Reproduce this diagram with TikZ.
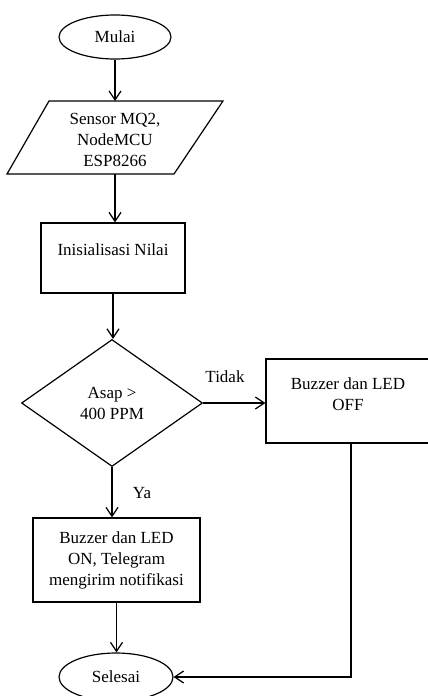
\documentclass[tikz,border=0pt]{standalone}
\usepackage{fontspec}
\setmainfont{Liberation Serif}
\usetikzlibrary{shapes.geometric,arrows.meta}
\begin{document}
\begin{tikzpicture}[x=1pt,y=-1pt,
  every node/.style={font=\fontsize{17}{21}\selectfont},
  shp/.style={draw,line width=1.2pt,inner sep=0pt},
  conn/.style={line width=1.2pt,-{Straight Barb[length=9pt,width=12pt,line width=1.2pt]}},
  plain/.style={line width=1.2pt}]
\useasboundingbox (0,0) rectangle (428,696);
\node[shp,ellipse,minimum width=112pt,minimum height=44pt] (start) at (115,37) {Mulai};
% parallelogram (input/output)
\draw[plain] (49,101) -- (223,101) -- (174,174) -- (7,174) -- cycle;
\coordinate (iotop) at (115,101);
\coordinate (iobot) at (115,174);
\node[align=center] (io) at (115,140) {Sensor MQ2,\\NodeMCU\\ESP8266};
\node[shp,rectangle,minimum width=144pt,minimum height=70pt] (init) at (113,258) {};
\node (initt) at (113,250) {Inisialisasi Nilai};
\node[shp,diamond,minimum width=181pt,minimum height=127pt,align=center] (dec) at (112,403) {Asap >\\400 PPM};
\node[shp,rectangle,minimum width=166pt,minimum height=84pt] (off) at (349,401) {};
\node[align=center] (offt) at (348,394.5) {Buzzer dan LED\\OFF};
\node[shp,rectangle,minimum width=167pt,minimum height=84pt,align=center] (on) at (116.5,560) {Buzzer dan LED\\ON, Telegram\\mengirim notifikasi};
\node[shp,ellipse,minimum width=114pt,minimum height=48pt] (end) at (116,677) {Selesai};
\node (tidak) at (225,377) {Tidak};
\node (ya) at (142,493) {Ya};
\draw[conn] (start.south) -- (start.south |- iotop);
\draw[conn] (iobot) -- (iobot |- init.north);
\draw[conn] (init.south) -- (init.south |- dec.north);
\draw[conn] (dec.east) -- (dec.east -| off.west);
\draw[conn] (dec.south) -- (dec.south |- on.north);
\draw[conn] (on.south) -- (on.south |- end.north);
\draw[conn] ([xshift=2pt]off.south) |- (end.east);
\end{tikzpicture}
\end{document}
